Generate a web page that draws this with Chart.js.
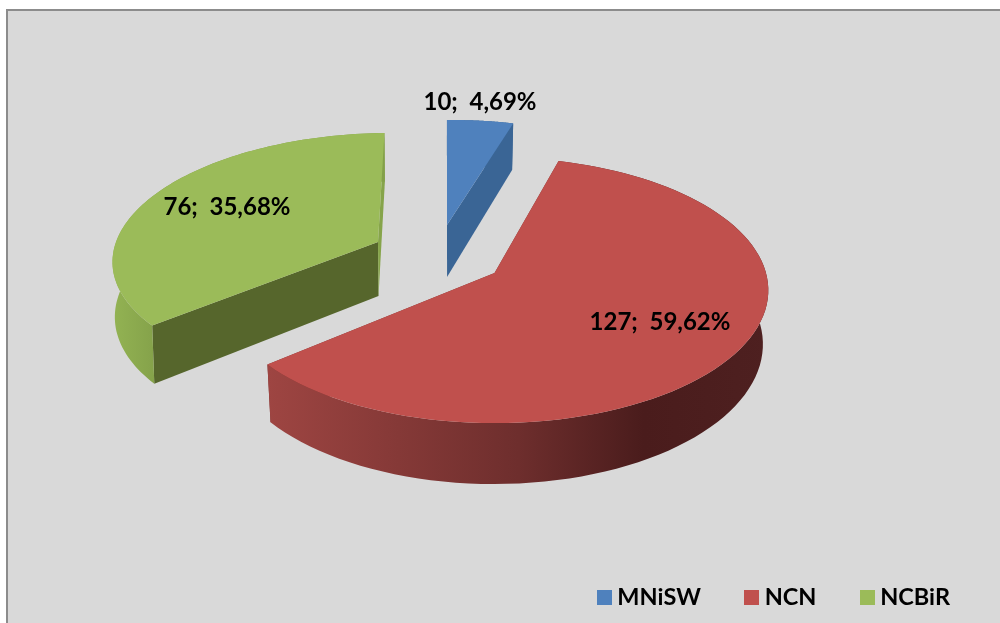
<!DOCTYPE html>
<html><head><meta charset="utf-8">
<style>html,body{margin:0;padding:0;background:#fff}#w{width:1000px;height:623px;position:relative}</style>
<script src="https://cdn.jsdelivr.net/npm/chart.js@4"></script>
</head><body><div id="w"><canvas id="c"></canvas></div>
<script>
const categories = ['MNiSW','NCN','NCBiR'];
const values = [10,127,76];
const percentLabels = ['4,69%','59,62%','35,68%'];

const topColors = ['#4F81BD','#C0504D','#9BBB59'];
const startFace = ['#3A6595','#7a3330','#56662C'];
const endFace   = ['#3A6595','#7a3330','#86A44A'];
const rimStops  = [
  [[0,'#3A6595'],[1,'#3A6595']],
  [[0,'#9E4542'],[0.5,'#6E2E2D'],[0.75,'#4A1C1C'],[1,'#4E2020']],
  [[0,'#93B353'],[1,'#83A049']]
];
const rimRange = [[440,520],[268,769],[112,160]];
// local perspective of each exploded slice: apex, scale, tilt, thickness, convergence
const views = [
  {ax:447,ay:225,S:254,T:117.6,k:.12,m:6.6,D:52,c:.017},
  {ax:494.5,ay:273,S:271.5,T:130.6,k:.13,m:0,D:53,c:.017},
  {ax:378,ay:242,S:262,T:121,k:.11,m:14,D:54,c:.007}
];
const labelOffsets = [[33,-123],[165.5,49],[-151,-35]];
const vanishX = 450;

function project(v,x,y){
  const w = 1+v.k*y;
  return [v.ax+(v.S*x+v.m*y)/w, v.ay-v.T*y/w, w];
}
function topPt(v,a,r){ return project(v,Math.sin(a)*r,Math.cos(a)*r); }
function botPt(v,a,r){
  const p = topPt(v,a,r);
  return [p[0]+(vanishX-p[0])*v.c, p[1]+v.D/p[2]];
}
function poly(ctx,pts,fill){
  ctx.beginPath();
  pts.forEach((p,i)=> i?ctx.lineTo(p[0],p[1]):ctx.moveTo(p[0],p[1]));
  ctx.closePath(); ctx.fillStyle=fill; ctx.fill();
}
function swatch(color){
  const s=document.createElement('canvas'); s.width=15; s.height=15;
  const x=s.getContext('2d'); x.fillStyle=color; x.fillRect(0,0,15,15);
  return s;
}
const pie3d = {
  id:'pie3d',
  beforeDraw(chart){
    const c=chart.ctx; c.save();
    c.fillStyle='#fff'; c.fillRect(0,0,1000,623);
    c.fillStyle='#8C8C8C'; c.fillRect(6,9,994,614);
    c.fillStyle='#D9D9D9'; c.fillRect(8,11,992,612);
    c.restore();
  },
  beforeDatasetsDraw(chart){
    const c=chart.ctx, arcs=chart.getDatasetMeta(0).data;
    c.save();
    [0,2,1].forEach(i=>{
      const v=views[i], e=arcs[i].getProps(['startAngle','endAngle'],true);
      const a0=e.startAngle+Math.PI/2, a1=e.endAngle+Math.PI/2, n=90;
      const arcT=[],arcB=[];
      for(let j=0;j<=n;j++){
        const a=a0+(a1-a0)*j/n;
        arcT.push(topPt(v,a,1)); arcB.push(botPt(v,a,1));
      }
      const apT=topPt(v,0,0), apB=botPt(v,0,0);
      poly(c,[apT,arcT[0],arcB[0],apB],startFace[i]);
      poly(c,[apT,arcT[n],arcB[n],apB],endFace[i]);
      const g=c.createLinearGradient(rimRange[i][0],0,rimRange[i][1],0);
      rimStops[i].forEach(s=>g.addColorStop(s[0],s[1]));
      poly(c,arcT.concat(arcB.slice().reverse()),g);
      poly(c,[apT].concat(arcT),topColors[i]);
    });
    c.fillStyle='#000'; c.font='bold 24px Lato'; c.textAlign='center'; c.textBaseline='middle';
    values.forEach((val,i)=>{
      const v=views[i];
      c.fillText(val+';  '+percentLabels[i], v.ax+labelOffsets[i][0], v.ay+labelOffsets[i][1]);
    });
    c.restore();
    return false;
  }
};
new Chart(document.getElementById('c'),{
  type:'pie',
  data:{labels:categories,datasets:[{data:values,backgroundColor:topColors,borderWidth:0}]},
  options:{
    responsive:true,maintainAspectRatio:false,animation:false,rotation:-1.5,
    layout:{padding:{bottom:4,right:0}},
    plugins:{
      tooltip:{enabled:false},
      legend:{position:'bottom',align:'end',
        labels:{usePointStyle:true,boxWidth:2,boxHeight:15,padding:50,color:'#000',
          font:{family:'Lato',weight:'bold',size:23.5},
          generateLabels:()=>categories.map((t,i)=>({text:t,index:i,fillStyle:topColors[i],strokeStyle:topColors[i],lineWidth:0,hidden:false,pointStyle:swatch(topColors[i])}))}}
    }
  },
  plugins:[pie3d]
});
</script></body></html>
